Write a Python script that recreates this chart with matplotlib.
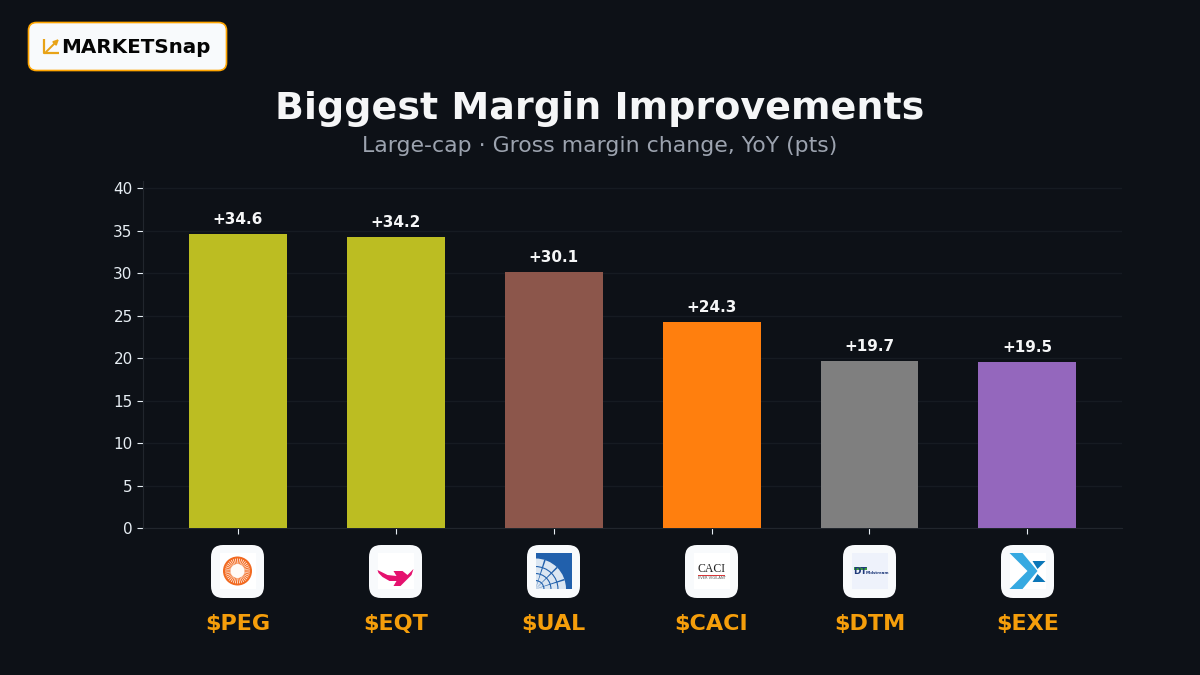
import numpy as np
import matplotlib
matplotlib.use('Agg')
import matplotlib.pyplot as plt
from matplotlib.patches import FancyBboxPatch, Rectangle, Circle, Polygon, Wedge

tickers = ['$PEG', '$EQT', '$UAL', '$CACI', '$DTM', '$EXE']
margin_change = [34.6, 34.2, 30.1, 24.3, 19.7, 19.5]
bar_colors = ['#bcbd22', '#bcbd22', '#8c564b', '#ff7f0e', '#7f7f7f', '#9467bd']
y_ticks = [0, 5, 10, 15, 20, 25, 30, 35, 40]

BG = '#0d1117'
ORANGE = '#f59e0b'

fig = plt.figure(figsize=(12, 6.75), dpi=100, facecolor=BG)
ax = fig.add_axes([143.1 / 1200, (675 - 528.2) / 675, 979 / 1200, 347 / 675], facecolor=BG)

x = np.arange(len(tickers))
ax.bar(x, margin_change, width=0.62, color=bar_colors, zorder=3)
for xi, v in zip(x, margin_change):
    ax.annotate('+{:.1f}'.format(v), (xi, v), xytext=(0, 5), textcoords='offset points',
                ha='center', va='bottom', color='#f5f6f7', fontsize=11, fontweight='bold')

ax.set_xlim(-0.6, 5.6)
ax.set_ylim(0, 40.8)
ax.set_yticks(y_ticks)
ax.set_xticks(x)
ax.set_xticklabels(tickers, color=ORANGE, fontsize=16, fontweight='bold')
ax.tick_params(axis='x', colors='#e6edf3', length=4, pad=57.6, labelcolor=ORANGE)
ax.tick_params(axis='y', colors='#e6edf3', length=4, labelsize=11)
ax.grid(axis='y', color='#161b22', linewidth=1, zorder=0)
for side in ['top', 'right']:
    ax.spines[side].set_visible(False)
for side in ['left', 'bottom']:
    ax.spines[side].set_color('#21262d')

fig.text(0.5, 1 - 109 / 675, 'Biggest Margin Improvements', ha='center', va='center',
         color='#f5f6f7', fontsize=27.4, fontweight='bold')
fig.text(0.5, 1 - 146.5 / 675, 'Large-cap · Gross margin change, YoY (pts)', ha='center', va='center',
         color='#9ca3af', fontsize=15.8)

# overlay in pixel coordinates for the logos
ov = fig.add_axes([0, 0, 1, 1], facecolor='none')
ov.set_xlim(0, 1200)
ov.set_ylim(675, 0)
ov.axis('off')


def rounded(x0, y0, w, h, r, fc, ec='none', lw=0):
    ov.add_patch(FancyBboxPatch((x0 + r, y0 + r), w - 2 * r, h - 2 * r,
                                boxstyle='round,pad={},rounding_size={}'.format(r, r),
                                fc=fc, ec=ec, lw=lw))


def logo_peg(cx, cy):
    ov.add_patch(Circle((cx, cy), 14.5, fc='#f26a21', ec='none'))
    for a in np.arange(0, 360, 10):
        ov.add_patch(Wedge((cx, cy), 12.5, a - 2, a + 2, fc='#fff1e8', ec='none'))
    ov.add_patch(Circle((cx, cy), 7, fc='#fffaf6', ec='none'))


def logo_eqt(cx, cy):
    pts = [(-18, -1), (-14, 1), (-8, 4), (1, 5), (-2, 0), (7, 0), (12, 4), (18, -2),
           (16, 4), (13, 7), (5, 15), (-2, 15), (1, 10), (-6, 10), (-13, 6), (-17, 2)]
    ov.add_patch(Polygon([(cx + a, cy + b) for a, b in pts], fc='#e5126f', ec='none'))


def logo_ual(cx, cy):
    square = Rectangle((cx - 18, cy - 18), 36, 36, fc='#2160ac', ec='none')
    ov.add_patch(square)
    centre = (cx - 18, cy + 18)
    parts = [Wedge(centre, 30.5, -90, 0, fc='#dbe6f2', ec='none')]
    for r in [9, 16, 23]:
        parts.append(Wedge(centre, r, -90, 0, width=1.1, fc='#2160ac', ec='none'))
    for a in [-72, -45, -18]:
        parts.append(Wedge(centre, 30.5, a - 1.5, a + 1.5, fc='#2160ac', ec='none'))
    for p in parts:
        ov.add_patch(p)
        p.set_clip_path(square)


def logo_caci(cx, cy):
    ov.text(cx, cy - 2, 'CACI', ha='center', va='center', fontsize=8.5, color='#222222',
            family='Liberation Serif')
    ov.add_patch(Rectangle((cx - 14, cy + 3.6), 27, 1, fc='#d8383a', ec='none'))
    ov.text(cx, cy + 7, 'EVER VIGILANT', ha='center', va='center', fontsize=2.6, color='#555555')


def logo_dtm(cx, cy):
    ov.add_patch(Rectangle((cx - 18, cy - 18), 36, 36, fc='#eef2fb', ec='none'))
    ov.text(cx - 9.5, cy, 'DT', ha='center', va='center', fontsize=6.5, fontweight='bold', color='#1f3a7a')
    ov.add_patch(Rectangle((cx - 16, cy - 4), 13, 2.5, fc='#3fa535', ec='none'))
    ov.text(cx + 8, cy + 2, 'Midstream', ha='center', va='center', fontsize=2.8, fontweight='bold', color='#1f3a7a')


def logo_exe(cx, cy):
    ov.add_patch(Polygon([(cx - 18, cy - 18), (cx - 5, cy - 18), (cx + 10, cy),
                          (cx - 5, cy + 18), (cx - 18, cy + 18), (cx, cy)],
                         fc='#36a9e1', ec='none'))
    ov.add_patch(Polygon([(cx + 5, cy - 10), (cx + 18, cy - 10), (cx + 10, cy - 2)], fc='#0b76b8', ec='none'))
    ov.add_patch(Polygon([(cx + 5, cy + 11), (cx + 18, cy + 11), (cx + 10, cy + 3)], fc='#0b76b8', ec='none'))


logos = [logo_peg, logo_eqt, logo_ual, logo_caci, logo_dtm, logo_exe]
tile_x = [237.5, 395.5, 553.5, 711.5, 869.5, 1027.5]
for cx, draw in zip(tile_x, logos):
    rounded(cx - 26.5, 545, 53, 53, 12, '#f8fafc')
    ov.add_patch(Rectangle((cx - 18, 553), 36, 36, fc='white', ec='none'))
    draw(cx, 571)

# brand badge
rounded(28.5, 22.5, 198, 48, 8, '#f8fafc', ec='#ffa500', lw=1.2)
ov.plot([44, 44, 59], [39, 53, 53], color='#e8a317', lw=1.6, solid_capstyle='butt')
ov.annotate('', xy=(59, 39), xytext=(46, 52),
            arrowprops=dict(arrowstyle='-|>', color='#e8a317', lw=1.4, mutation_scale=7, shrinkA=0, shrinkB=0))
ov.text(61.5, 47.5, 'MARKETSnap', ha='left', va='center', fontsize=14.3, fontweight='bold',
        family='DejaVu Sans', color='#050505')

fig.savefig('out.png', dpi=100, facecolor=BG)
